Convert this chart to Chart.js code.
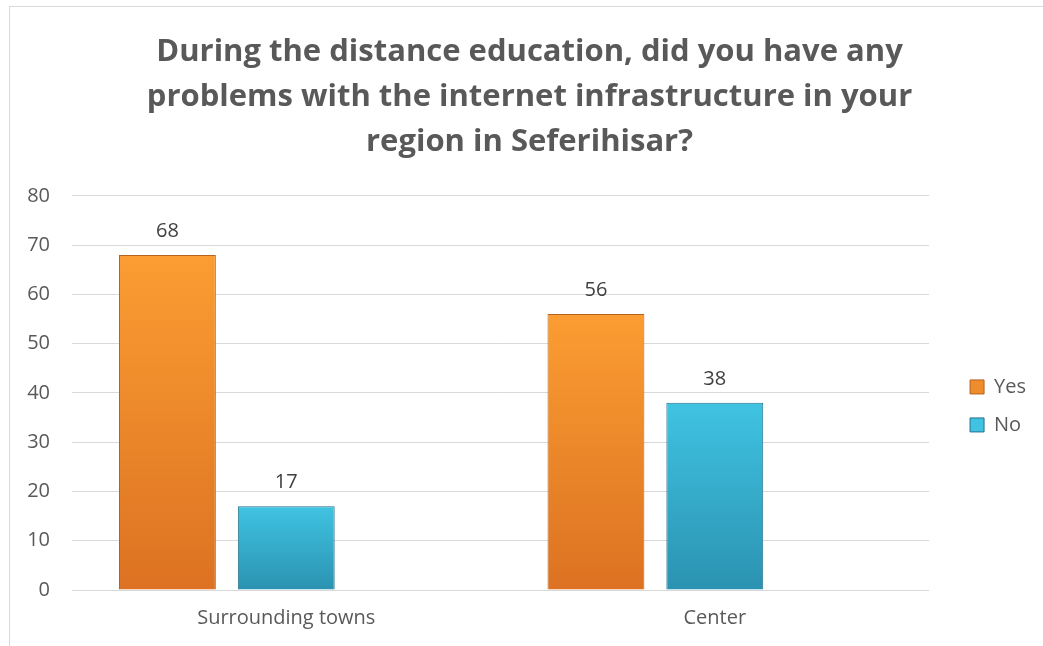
<!DOCTYPE html>
<html>
<head>
<meta charset="utf-8">
<script src="https://cdn.jsdelivr.net/npm/chart.js@4.4.1/dist/chart.umd.min.js"></script>
<style>
    html, body { margin: 0; padding: 0; background: #ffffff; overflow: hidden; }
    #frame {
        position: absolute; left: 9px; top: 6px;
        width: 1100px; height: 700px;
        border: 1px solid #d9d9d9;
    }
    #chartBox { position: absolute; left: 0; top: 0; width: 1043px; height: 646px; }
</style>
</head>
<body>
<div id="frame"></div>
<div id="chartBox"><canvas id="internetChart" width="1043" height="646"></canvas></div>
<script>
const titleLines = [
    "During the distance education, did you have any",
    "problems with the internet infrastructure in your",
    "region in Seferihisar?"
];
const categories = ["Surrounding towns", "Center"];
const yesValues = [68, 56];
const noValues = [17, 38];
const yTicks = [0, 10, 20, 30, 40, 50, 60, 70, 80];

const FONT = "'Open Sans', 'DejaVu Sans', sans-serif";

// vertical gradient from the top of each bar down to the baseline
function barFill(light, mid, dark) {
    return (ctx) => {
        const chart = ctx.chart;
        const area = chart.chartArea;
        if (!area || ctx.raw == null) return mid;
        const top = chart.scales.y.getPixelForValue(ctx.raw);
        const g = chart.ctx.createLinearGradient(0, top, 0, area.bottom);
        g.addColorStop(0, light);
        g.addColorStop(1, dark);
        return g;
    };
}

// value labels above the bars
const valueLabels = {
    id: "valueLabels",
    afterDatasetsDraw(chart) {
        const ctx = chart.ctx;
        ctx.save();
        ctx.font = "20px " + FONT;
        ctx.fillStyle = "#404040";
        ctx.textAlign = "center";
        ctx.textBaseline = "alphabetic";
        chart.data.datasets.forEach((ds, i) => {
            if (!ds.label) return;
            chart.getDatasetMeta(i).data.forEach((bar, j) => {
                ctx.fillText(String(ds.data[j]), bar.x, bar.y - 18);
            });
        });
        ctx.restore();
    }
};

new Chart(document.getElementById("internetChart"), {
    type: "bar",
    data: {
        labels: categories,
        datasets: [
            {
                label: "Yes",
                data: yesValues,
                backgroundColor: barFill("#fb9d32", "#f08528", "#dc7222"),
                borderColor: "#b5621d",
                borderWidth: 1
            },
            {
                label: "No",
                data: noValues,
                backgroundColor: barFill("#40c3e2", "#36a9ca", "#2b92b1"),
                borderColor: "#25708a",
                borderWidth: 1
            },
            {
                // empty slot: keeps each pair left of the category centre
                label: "",
                data: [null, null]
            }
        ]
    },
    options: {
        responsive: false,
        animation: false,
        categoryPercentage: 0.832,
        barPercentage: 0.815,
        layout: { padding: { left: 23, right: 7, top: 0, bottom: 0 } },
        plugins: {
            title: {
                display: true,
                text: titleLines,
                color: "#595959",
                font: { family: FONT, size: 31, weight: "bold", lineHeight: 1.45 },
                padding: { top: 30, bottom: 31 }
            },
            legend: {
                position: "right",
                fullSize: false,
                // empty title only pushes the two entries a little lower
                title: { display: true, text: "", font: { size: 10 }, padding: 7 },
                labels: {
                    color: "#595959",
                    font: { family: FONT, size: 20 },
                    boxWidth: 14,
                    boxHeight: 14,
                    padding: 18,
                    filter: (item) => item.text !== ""
                }
            },
            tooltip: { enabled: false }
        },
        scales: {
            x: {
                grid: { display: false, drawTicks: false },
                border: { display: false },
                ticks: { color: "#595959", font: { family: FONT, size: 20 }, padding: 16 }
            },
            y: {
                min: 0,
                max: 80,
                afterBuildTicks: (scale) => { scale.ticks = yTicks.map(v => ({ value: v })); },
                afterFit: (scale) => { scale.width = 49; },
                grid: { color: "#d9d9d9", lineWidth: 1, drawTicks: false },
                border: { display: false },
                ticks: { color: "#595959", font: { family: FONT, size: 20 }, padding: 22 }
            },
            gap: {
                // spacer between the plot and the legend
                position: "right",
                display: true,
                grid: { display: false, drawTicks: false },
                border: { display: false },
                ticks: { display: false },
                afterFit: (scale) => { scale.width = 23; }
            }
        }
    },
    plugins: [valueLabels]
});
</script>
</body>
</html>
